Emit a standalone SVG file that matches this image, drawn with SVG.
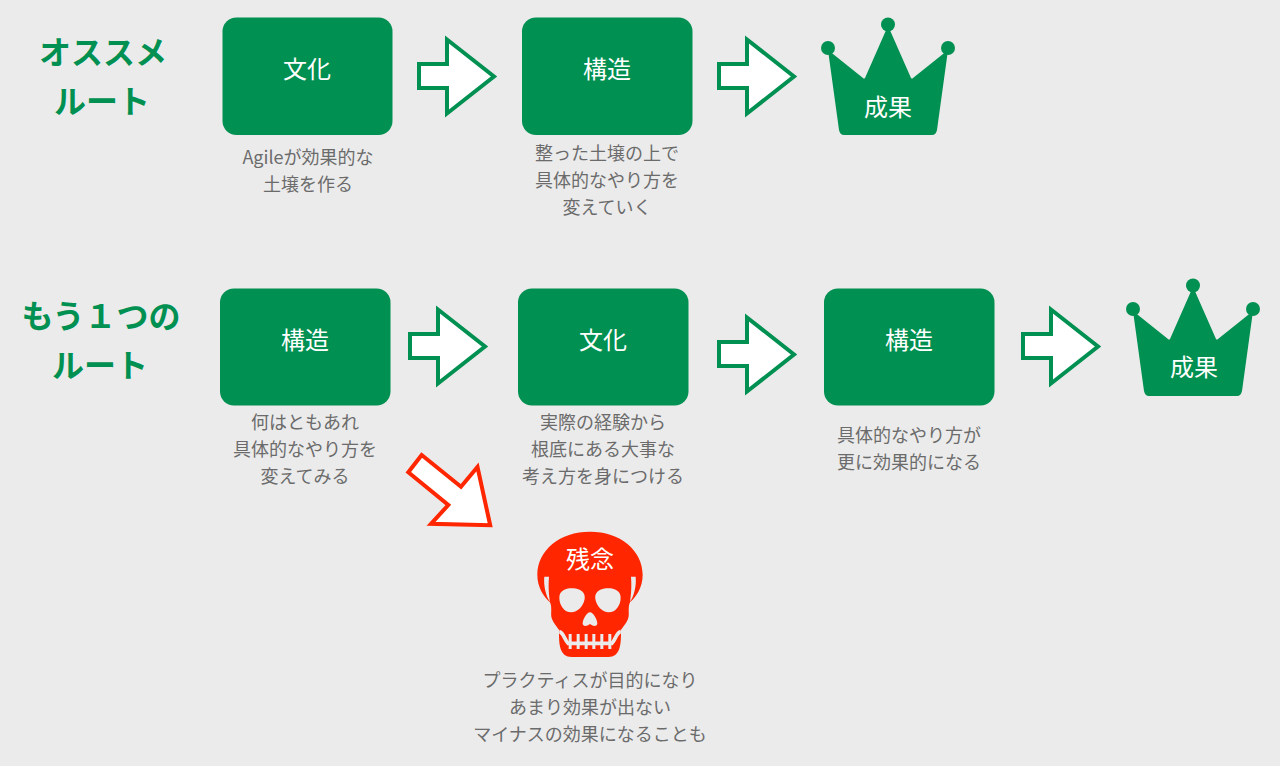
<svg xmlns="http://www.w3.org/2000/svg" xmlns:xlink="http://www.w3.org/1999/xlink" width="1280" height="766" viewBox="0 0 1280 766">
<style>
text{font-family:"Noto Sans CJK JP","Noto Sans",sans-serif;text-anchor:middle}
.box{fill:#009051}
.lab{font-size:24px;fill:#fff}
.cap{font-size:18px;fill:#6b6b6b}
.ttl{font-size:32px;font-weight:700;fill:#009051}
.arr{fill:#fff;stroke:#009051;stroke-width:4;stroke-miterlimit:10}
.bad{fill:#fff;stroke:#ff2600;stroke-width:4;stroke-miterlimit:10}
.crown{fill:#009051}
.bg{fill:#ebebeb}
</style>
<defs>
<path id="arrow" class="arr" d="M419,64H447V39.500L494,76.500L447,113.500V88H419Z"/>
<g id="crownShape" class="crown">
<circle cx="828" cy="48" r="7"/><circle cx="888" cy="24.500" r="7"/><circle cx="948" cy="48" r="7"/>
<path d="M828,50L863,78Q864,79 865,78L887,28H889L911,78Q912,79 913,78L948,50L937,130Q936,135 932,135H844Q840,135 839,130Z"/>
</g>
</defs>
<rect width="1280" height="766" fill="#ebebeb"/>
<g id="connectors">
<use xlink:href="#arrow" href="#arrow"/>
<use xlink:href="#arrow" href="#arrow" transform="translate(300,0)"/>
<use xlink:href="#arrow" href="#arrow" transform="translate(-9,270)"/>
<use xlink:href="#arrow" href="#arrow" transform="translate(300,278)"/>
<use xlink:href="#arrow" href="#arrow" transform="translate(604,270)"/>
<path class="bad" d="M421.700,455L408.300,472.300L448.300,505L431,523.800L490.200,525.300L477.500,467L461,486.700Z"/>
</g>
<g id="title-1">
<text class="ttl" x="103" y="64">オススメ</text>
<text class="ttl" x="102" y="113">ルート</text>
</g>
<g id="title-2">
<text class="ttl" x="101" y="328">もう１つの</text>
<text class="ttl" x="100" y="377">ルート</text>
</g>
<g id="node-culture-1">
<rect class="box" x="222.500" y="17.500" width="170" height="117.500" rx="14"/>
<text class="lab" x="307" y="78">文化</text>
<text class="cap" x="308" y="164">Agileが効果的な</text>
<text class="cap" x="308" y="191">土壌を作る</text>
</g>
<g id="node-structure-1">
<rect class="box" x="522" y="17.500" width="170.500" height="117.500" rx="14"/>
<text class="lab" x="607" y="78">構造</text>
<text class="cap" x="607" y="160">整った土壌の上で</text>
<text class="cap" x="607" y="187">具体的なやり方を</text>
<text class="cap" x="607" y="214">変えていく</text>
</g>
<g id="node-result-1">
<use xlink:href="#crownShape" href="#crownShape"/>
<text class="lab" x="888" y="116">成果</text>
</g>
<g id="node-structure-2">
<rect class="box" x="220" y="288.500" width="170.500" height="117" rx="14"/>
<text class="lab" x="305" y="349">構造</text>
<text class="cap" x="305" y="429">何はともあれ</text>
<text class="cap" x="305" y="456">具体的なやり方を</text>
<text class="cap" x="305" y="483">変えてみる</text>
</g>
<g id="node-culture-2">
<rect class="box" x="518" y="288.500" width="170.500" height="117" rx="14"/>
<text class="lab" x="603" y="349">文化</text>
<text class="cap" x="603" y="429">実際の経験から</text>
<text class="cap" x="603" y="456">根底にある大事な</text>
<text class="cap" x="603" y="483">考え方を身につける</text>
</g>
<g id="node-structure-3">
<rect class="box" x="824" y="288.500" width="170.500" height="117" rx="14"/>
<text class="lab" x="909" y="349">構造</text>
<text class="cap" x="909" y="442">具体的なやり方が</text>
<text class="cap" x="909" y="469">更に効果的になる</text>
</g>
<g id="node-result-2">
<use xlink:href="#crownShape" href="#crownShape" transform="translate(305,261)"/>
<text class="lab" x="1194" y="376">成果</text>
</g>
<g id="node-skull">
<g transform="translate(530,525) scale(0.3333)">
<path fill="#ff2600" d="M180,20C90,20 22,75 22,150C22,185 40,215 60,232C68,250 60,268 66,282C75,305 95,316 87,324C87,360 90,396 125,396H235C270,396 273,360 273,324C265,316 285,305 294,282C300,268 292,250 300,232C320,215 338,185 338,150C338,75 270,20 180,20Z"/>
<g class="bg">
<path d="M43,155H57C55,185 56,205 60,230C48,215 40,180 43,155Z"/>
<path d="M317,155H303C305,185 304,205 300,230C312,215 320,180 317,155Z"/>
<path d="M88,218C88,195 110,188 132,190C155,192 167,205 164,222C160,244 142,262 124,262C102,262 88,240 88,218Z"/>
<path d="M272,218C272,195 250,188 228,190C205,192 193,205 196,222C200,244 218,262 236,262C258,262 272,240 272,218Z"/>
<path d="M180,262C170,262 158,285 158,295C158,305 170,305 180,297C190,305 202,305 202,295C202,285 190,262 180,262Z"/>
<rect x="116" y="327" width="9" height="45"/><rect x="140" y="327" width="9" height="45"/><rect x="164" y="327" width="9" height="45"/><rect x="187" y="327" width="9" height="45"/><rect x="211" y="327" width="9" height="45"/><rect x="235" y="327" width="9" height="45"/>
</g>
<path fill="none" stroke="#ebebeb" stroke-width="11" d="M88,320C100,322 104,345 114,355H246C256,345 260,322 272,320"/>
</g>
<text class="lab" x="590" y="568">残念</text>
<text class="cap" x="590" y="687">プラクティスが目的になり</text>
<text class="cap" x="590" y="714">あまり効果が出ない</text>
<text class="cap" x="590" y="741">マイナスの効果になることも</text>
</g>
</svg>
